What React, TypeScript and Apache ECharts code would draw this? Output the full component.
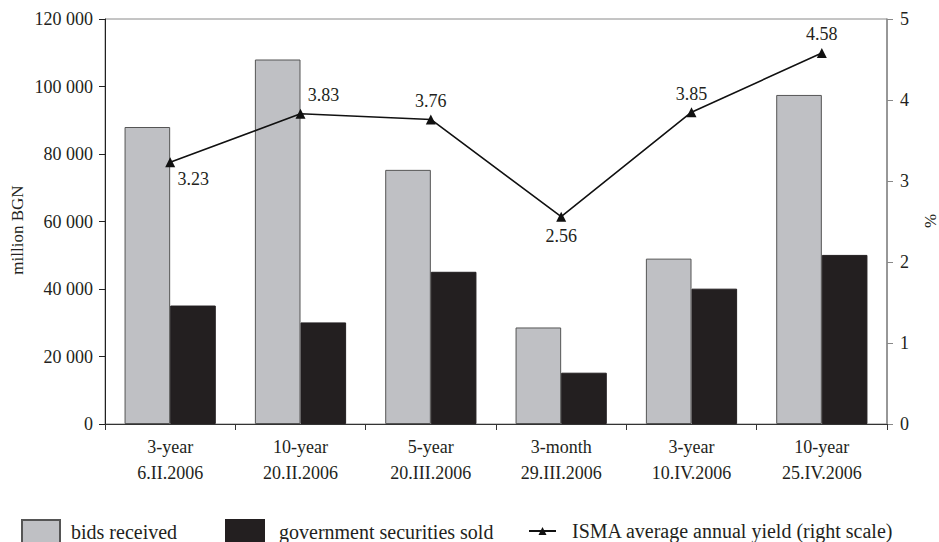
import React, { useEffect, useRef } from "react";
import * as echarts from "echarts";

const categories = [
  "3-year\n6.II.2006",
  "10-year\n20.II.2006",
  "5-year\n20.III.2006",
  "3-month\n29.III.2006",
  "3-year\n10.IV.2006",
  "10-year\n25.IV.2006",
];
const bidsReceived = [88000, 108000, 75300, 28600, 49000, 97500];
const securitiesSold = [35100, 30100, 45100, 15200, 40100, 50100];
const yieldValues = [3.23, 3.83, 3.76, 2.56, 3.85, 4.58];

const seriesNames = [
  "bids received",
  "government securities sold",
  "ISMA average annual yield (right scale)",
];

// label placement style for each yield point
const yieldLabelOffsets = [
  [23, 17],
  [23, -19],
  [0, -18],
  [0, 19],
  [0, -18],
  [0, -19],
];

const FONT = "'Liberation Serif', 'Times New Roman', serif";

const fmt = (v: number) =>
  String(v).replace(/\B(?=(\d{3})+(?!\d))/g, " ");

export default function App() {
  const ref = useRef<HTMLDivElement>(null);
  useEffect(() => {
    if (!ref.current) return;
    const chart = echarts.init(ref.current, null, { renderer: "svg" });
    const textBase = { fontFamily: FONT, color: "#231f20" };
    chart.setOption({
      animation: false,
      backgroundColor: "#ffffff",
      textStyle: { fontFamily: FONT },
      grid: {
        left: 105,
        right: 52,
        top: 19,
        bottom: 118,
        containLabel: false,
        outerBoundsMode: "none",
        show: true,
        borderColor: "#8a8a8a",
        borderWidth: 1,
      },
      legend: [
        {
          data: [seriesNames[0]],
          left: 16,
          top: 514,
          icon: "rect",
          itemWidth: 38,
          itemHeight: 23,
          textStyle: { ...textBase, fontSize: 20, padding: [0, 0, 0, 6] },
        },
        {
          data: [seriesNames[1]],
          left: 220,
          top: 514,
          icon: "rect",
          itemWidth: 38,
          itemHeight: 23,
          textStyle: { ...textBase, fontSize: 20, padding: [0, 0, 0, 10] },
        },
        {
          data: [seriesNames[2]],
          left: 523,
          top: 516,
          itemWidth: 27,
          itemHeight: 10,
          textStyle: { ...textBase, fontSize: 20, padding: [0, 0, 0, 11] },
        },
      ],
      graphic: [
        {
          type: "text",
          x: 17,
          y: 230,
          rotation: Math.PI / 2,
          style: {
            text: "million BGN",
            fontFamily: FONT,
            fontSize: 17,
            fill: "#231f20",
            align: "center",
            verticalAlign: "middle",
          },
        },
        {
          type: "text",
          x: 930,
          y: 221,
          rotation: Math.PI / 2,
          style: {
            text: "%",
            fontFamily: FONT,
            fontSize: 17,
            fill: "#231f20",
            align: "center",
            verticalAlign: "middle",
          },
        },
      ],
      xAxis: {
        type: "category",
        data: categories,
        axisLine: { lineStyle: { color: "#333", width: 1 } },
        axisTick: { show: true, length: 6, lineStyle: { color: "#333" } },
        axisLabel: {
          ...textBase,
          fontSize: 18,
          lineHeight: 26,
          margin: 10,
        },
      },
      yAxis: [
        {
          type: "value",
          min: 0,
          max: 120000,
          interval: 20000,
          splitLine: { show: false },
          axisLine: { show: true, lineStyle: { color: "#222", width: 1 } },
          axisTick: { show: true, length: 6, lineStyle: { color: "#222" } },
          axisLabel: {
            ...textBase,
            fontSize: 18,
            margin: 12,
            formatter: (v: number) => fmt(v),
          },
        },
        {
          type: "value",
          min: 0,
          max: 5,
          interval: 1,
          position: "right",
          splitLine: { show: false },
          axisLine: { show: true, lineStyle: { color: "#888", width: 1.5 } },
          axisTick: { show: true, length: 6, lineStyle: { color: "#888" } },
          axisLabel: { ...textBase, fontSize: 18, margin: 13 },
        },
      ],
      series: [
        {
          name: seriesNames[0],
          type: "bar",
          data: bidsReceived,
          barGap: "0%",
          barCategoryGap: "30%",
          itemStyle: { color: "#bfc0c4", borderColor: "#555", borderWidth: 1 },
        },
        {
          name: seriesNames[1],
          type: "bar",
          data: securitiesSold,
          barGap: "0%",
          barCategoryGap: "30%",
          itemStyle: { color: "#231f20", borderColor: "#231f20", borderWidth: 1 },
        },
        {
          name: seriesNames[2],
          type: "line",
          yAxisIndex: 1,
          z: 5,
          symbol: "triangle",
          symbolSize: 10,
          lineStyle: { color: "#111", width: 1.6 },
          itemStyle: { color: "#111" },
          data: yieldValues.map((v, i) => ({
            value: v,
            label: {
              show: true,
              position: "inside",
              offset: yieldLabelOffsets[i],
              formatter: (p: any) => p.value.toFixed(2),
              fontFamily: FONT,
              fontSize: 18,
              color: "#231f20",
            },
          })),
        },
      ],
    });
    return () => chart.dispose();
  }, []);
  return (
    <div
      ref={ref}
      style={{ position: "fixed", left: 0, top: 0, width: 939, height: 542 }}
    />
  );
}
